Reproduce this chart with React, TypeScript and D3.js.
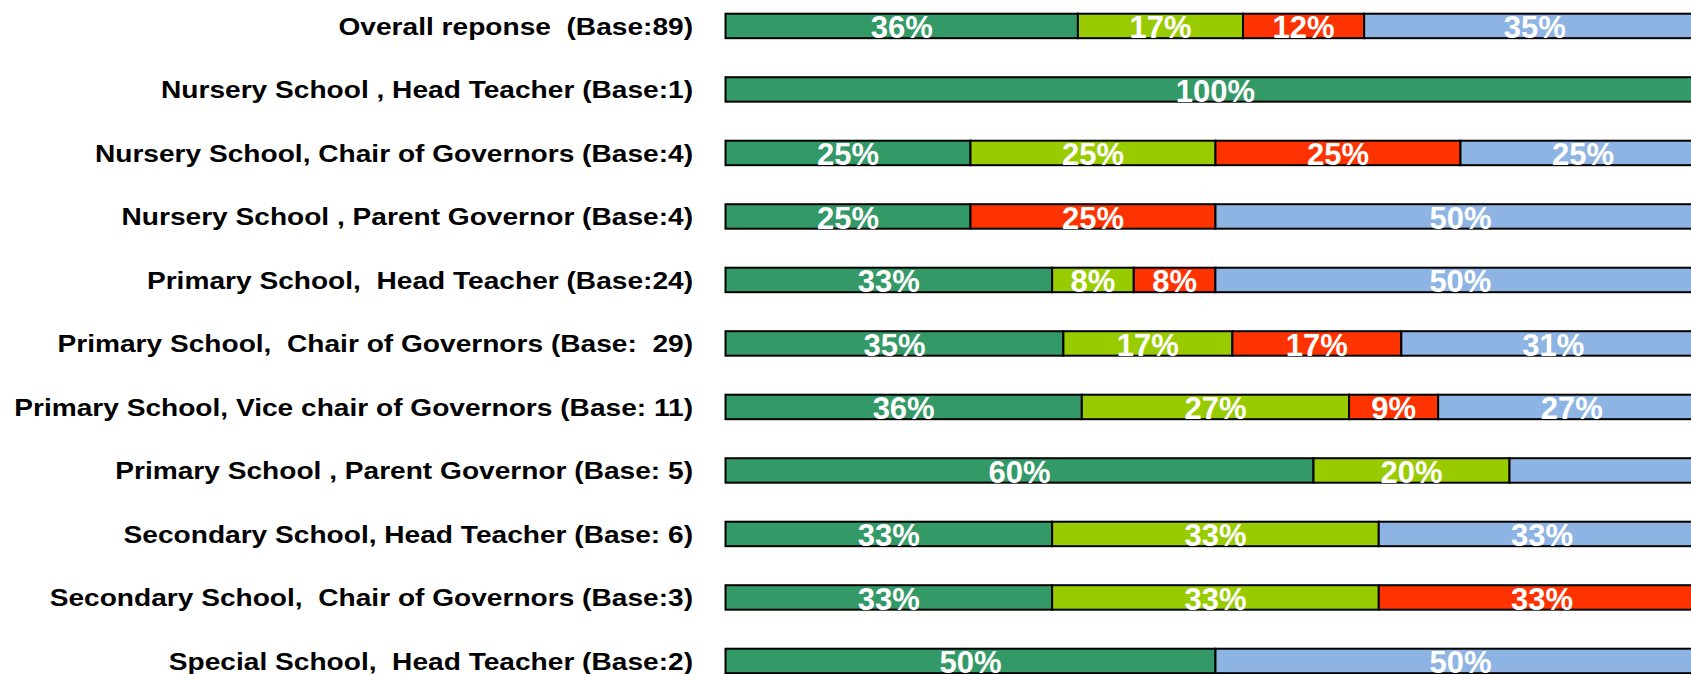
import React from 'react';
import * as d3 from 'd3';

const categories = [
  'Overall reponse  (Base:89)',
  'Nursery School , Head Teacher (Base:1)',
  'Nursery School, Chair of Governors (Base:4)',
  'Nursery School , Parent Governor (Base:4)',
  'Primary School,  Head Teacher (Base:24)',
  'Primary School,  Chair of Governors (Base:  29)',
  'Primary School, Vice chair of Governors (Base: 11)',
  'Primary School , Parent Governor (Base: 5)',
  'Secondary School, Head Teacher (Base: 6)',
  'Secondary School,  Chair of Governors (Base:3)',
  'Special School,  Head Teacher (Base:2)',
];

const seriesKeys = ['green', 'lime', 'red', 'blue'];
const seriesColors = ['#339966', '#99CC00', '#FF3300', '#8EB4E3'];

const greenValues = [35.96, 100, 25, 25, 33.33, 34.48, 36.36, 60, 33.33, 33.33, 50];
const limeValues = [16.85, 0, 25, 0, 8.33, 17.24, 27.27, 20, 33.33, 33.33, 0];
const redValues = [12.36, 0, 25, 25, 8.33, 17.24, 9.09, 0, 0, 33.33, 0];
const blueValues = [34.83, 0, 25, 50, 50, 31.03, 27.27, 20, 33.33, 0, 50];

const greenLabels = ['36%', '100%', '25%', '25%', '33%', '35%', '36%', '60%', '33%', '33%', '50%'];
const limeLabels = ['17%', '', '25%', '', '8%', '17%', '27%', '20%', '33%', '33%', ''];
const redLabels = ['12%', '', '25%', '25%', '8%', '17%', '9%', '', '', '33%', ''];
const blueLabels = ['35%', '', '25%', '50%', '50%', '31%', '27%', '', '33%', '', '50%'];

const WIDTH = 1691;
const HEIGHT = 674;
const FONT = '"Liberation Sans", Arial, Helvetica, sans-serif';

export default function App() {
  const valueSets = [greenValues, limeValues, redValues, blueValues];
  const labelSets = [greenLabels, limeLabels, redLabels, blueLabels];

  const rows = categories.map((c, i) => {
    const r: any = { category: c, index: i };
    seriesKeys.forEach((k, j) => (r[k] = valueSets[j][i]));
    return r;
  });

  const stacked = d3.stack<any>().keys(seriesKeys)(rows);

  const x = d3.scaleLinear().domain([0, 100]).range([725.5, 1705.5]);
  const y = d3
    .scaleBand<string>()
    .domain(categories)
    .range([-5.8, 692.7])
    .paddingInner(0.583)
    .paddingOuter(0.2915);

  const bw = y.bandwidth();

  return (
    <div style={{ position: 'absolute', left: 0, top: 0 }}>
      <svg width={WIDTH} height={HEIGHT} style={{ display: 'block', background: '#fff' }}>
        <rect x={0} y={0} width={WIDTH} height={HEIGHT} fill="#fff" />
        {categories.map((c) => {
          const top = y(c) as number;
          return (
            <text
              key={c}
              transform={`translate(693, ${top + 22}) scale(1.133, 1)`}
              textAnchor="end"
              fontFamily={FONT}
              fontWeight="bold"
              fontSize={24.8}
              fill="#000"
              style={{ whiteSpace: 'pre' }}
            >
              {c}
            </text>
          );
        })}
        {stacked.map((layer, j) => (
          <g key={layer.key}>
            {layer.map((d: any, i: number) => {
              const v = d[1] - d[0];
              if (v <= 0) return null;
              const top = y(d.data.category) as number;
              return (
                <rect
                  key={i}
                  x={x(d[0])}
                  y={top + 1}
                  width={x(d[1]) - x(d[0])}
                  height={bw - 2}
                  fill={seriesColors[j]}
                  stroke="#000"
                  strokeWidth={2}
                />
              );
            })}
          </g>
        ))}
        {stacked.map((layer, j) => (
          <g key={'l' + layer.key}>
            {layer.map((d: any, i: number) => {
              const label = labelSets[j][i];
              if (!label || d[1] - d[0] <= 0) return null;
              const top = y(d.data.category) as number;
              return (
                <text
                  key={i}
                  x={(x(d[0]) + x(d[1])) / 2}
                  y={top + 25.5}
                  textAnchor="middle"
                  fontFamily={FONT}
                  fontWeight="bold"
                  fontSize={31}
                  fill="#fff"
                >
                  {label}
                </text>
              );
            })}
          </g>
        ))}
      </svg>
    </div>
  );
}
